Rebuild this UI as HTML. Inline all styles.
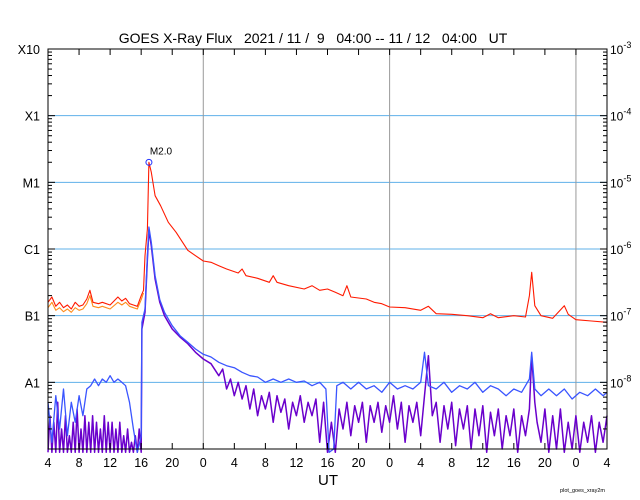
<!DOCTYPE html>
<html><head><meta charset="utf-8"><style>
body{margin:0;background:#fff;}
svg{display:block;font-family:"Liberation Sans",sans-serif;}
.pre{white-space:pre;}
</style></head><body>
<svg id="chart" width="640" height="500" viewBox="0 0 640 500" xmlns="http://www.w3.org/2000/svg">
<rect width="640" height="500" fill="#fff"/>
<text class="pre" xml:space="preserve" x="313" y="43" text-anchor="middle" font-size="14">GOES X-Ray Flux   2021 / 11 /  9   04:00 -- 11 / 12   04:00   UT</text>
<g id="grid"></g>
<g id="series"></g>
<g id="axes"></g>
<text x="328" y="485" text-anchor="middle" font-size="15">UT</text>
<text x="605" y="492" text-anchor="end" font-size="5.5">plot_goes_xray2m</text>
</svg>
<script>
const xTickLabels=["4","8","12","16","20","0","4","8","12","16","20","0","4","8","12","16","20","0","4"];
const leftLabels=["X10","X1","M1","C1","B1","A1"];
const rightExps=["-3","-4","-5","-6","-7","-8"];
const dayLines=[20,44,68];
const redT=[0,0.5,1,1.5,2,2.5,3,3.5,4,4.5,5,5.4,5.8,6.5,7,8,9,9.5,10,10.5,11,11.5,12,12.3,12.5,12.8,13.0,13.3,13.8,14.5,15.5,16.5,18,19,20,21,22,23,24.5,25,25.5,27,28.5,29,29.5,31,33,34,35,36,37,38,38.5,39,41,42,43,44,46,48,49,50,52,54,56,57,58,60,61.5,62,62.3,62.7,63.5,65,66.5,67,68,70,72];
const redV=[-6.80,-6.72,-6.86,-6.80,-6.88,-6.84,-6.90,-6.80,-6.86,-6.84,-6.75,-6.62,-6.80,-6.82,-6.80,-6.84,-6.72,-6.78,-6.74,-6.82,-6.84,-6.86,-6.70,-6.62,-6.10,-5.70,-4.70,-4.85,-5.20,-5.35,-5.60,-5.75,-6.02,-6.10,-6.18,-6.20,-6.25,-6.30,-6.36,-6.30,-6.40,-6.44,-6.50,-6.40,-6.50,-6.55,-6.60,-6.55,-6.62,-6.60,-6.65,-6.70,-6.55,-6.72,-6.75,-6.80,-6.82,-6.87,-6.88,-6.92,-6.86,-6.97,-6.98,-7.00,-7.03,-6.97,-7.03,-7.00,-7.02,-6.70,-6.35,-6.85,-7.00,-7.04,-6.85,-6.98,-7.06,-7.08,-7.10];
const orangeT=[0,0.5,1,1.5,2,2.5,3,3.5,4,4.5,5,5.4,5.8,6.5,7,8,9,9.5,10,10.5,11,11.5,12,12.3];
const orangeV=[-6.88,-6.80,-6.92,-6.88,-6.94,-6.90,-6.95,-6.88,-6.92,-6.90,-6.82,-6.70,-6.86,-6.88,-6.86,-6.90,-6.80,-6.84,-6.80,-6.86,-6.88,-6.90,-6.76,-6.66];
const blueT=[0,0.5,1,1.5,2,2.5,3,3.5,4,4.5,5,5.5,6,6.5,7,7.5,8,8.5,9,9.5,10,10.5,11,11.5,12,12.1,12.5,12.8,13.0,13.3,13.8,14.4,15,16,17,18,19,20,21,22,23,24,25,26,27,28,29,30,31,32,33,34,35,35.8,36.2,36.8,37.2,38,39,40,41,42,43,44,45,46,47,48,48.5,49,50,51,52,53,54,55,56,57,58,59,60,61,62,62.3,62.7,63.5,64.5,65.5,66.5,67.5,68.5,69.5,70.5,71.5,72];
const blueV=[-8.3,-8.9,-8.2,-8.7,-8.1,-8.8,-8.3,-8.6,-8.2,-8.5,-8.1,-8.05,-7.95,-8.05,-7.95,-8.0,-7.9,-8.0,-7.95,-8.0,-8.05,-8.3,-8.7,-9.1,-8.8,-7.1,-6.9,-6.1,-5.67,-5.9,-6.4,-6.76,-6.95,-7.15,-7.3,-7.4,-7.5,-7.58,-7.62,-7.70,-7.75,-7.78,-7.85,-7.9,-7.92,-8.0,-7.95,-8.0,-7.95,-8.0,-7.98,-8.05,-8.0,-8.1,-9.1,-9.0,-8.05,-8.0,-8.1,-8.0,-8.1,-8.05,-8.15,-8.0,-8.1,-8.05,-8.1,-8.0,-7.55,-8.05,-8.1,-8.0,-8.15,-8.05,-8.1,-8.0,-8.15,-8.05,-8.1,-8.2,-8.1,-8.15,-7.95,-7.55,-8.1,-8.2,-8.1,-8.2,-8.1,-8.25,-8.15,-8.2,-8.1,-8.2,-8.15];
const purpleT=[0,0.25,0.5,0.75,1,1.25,1.5,1.75,2,2.25,2.5,2.75,3,3.25,3.5,3.75,4,4.25,4.5,4.75,5,5.25,5.5,5.75,6,6.25,6.5,6.75,7,7.25,7.5,7.75,8,8.25,8.5,8.75,9,9.25,9.5,9.75,10,10.25,10.5,10.75,11,11.25,11.5,11.75,12,12.1,12.5,12.8,13.0,13.3,13.8,14.4,15,16,17,18,19,20,21,22,22.5,23,23.5,24,24.5,25,25.5,26,26.5,27,27.5,28,28.5,29,29.5,30,30.5,31,31.5,32,32.5,33,33.5,34,34.5,35,35.5,36,36.5,37,37.5,38,38.5,39,39.5,40,40.5,41,41.5,42,42.5,43,43.5,44,44.5,45,45.5,46,46.5,47,47.5,48,48.5,49,49.5,50,50.5,51,51.5,52,52.5,53,53.5,54,54.5,55,55.5,56,56.5,57,57.5,58,58.5,59,59.5,60,60.5,61,61.5,62,62.3,62.7,63,63.5,64,64.5,65,65.5,66,66.5,67,67.5,68,68.5,69,69.5,70,70.5,71,71.5,72];
const purpleV=[-9.3,-8.5,-9.3,-8.6,-9.2,-8.3,-9.3,-8.7,-9.3,-8.5,-9.3,-8.8,-9.2,-8.6,-9.3,-8.4,-9.3,-8.7,-9.3,-8.5,-9.2,-8.6,-9.3,-8.5,-9.3,-8.6,-9.2,-8.7,-9.3,-8.5,-9.3,-8.6,-9.2,-8.6,-9.3,-8.7,-9.3,-8.6,-9.2,-8.8,-9.3,-8.7,-9.3,-8.9,-9.3,-8.8,-9.3,-8.7,-9.2,-7.2,-6.95,-6.15,-5.72,-5.95,-6.45,-6.8,-7.0,-7.2,-7.32,-7.42,-7.55,-7.65,-7.72,-7.9,-7.8,-8.1,-7.95,-8.2,-8.0,-8.25,-8.05,-8.4,-8.1,-8.5,-8.2,-8.4,-8.15,-8.6,-8.2,-8.45,-8.25,-8.7,-8.3,-8.5,-8.2,-8.6,-8.3,-8.5,-8.25,-8.9,-8.3,-9.2,-8.6,-9.2,-8.4,-8.7,-8.3,-8.8,-8.35,-8.6,-8.3,-8.9,-8.35,-8.6,-8.3,-8.75,-8.35,-8.6,-8.2,-8.7,-8.3,-8.9,-8.35,-8.6,-8.3,-8.8,-8.2,-7.6,-8.5,-8.3,-8.9,-8.35,-8.7,-8.3,-8.95,-8.4,-8.7,-8.35,-9.0,-8.4,-8.8,-8.35,-9.1,-8.45,-8.8,-8.4,-9.0,-8.5,-8.8,-8.4,-9.2,-8.5,-8.8,-8.4,-7.6,-8.3,-8.6,-8.9,-8.4,-9.2,-8.5,-9.0,-8.4,-9.2,-8.6,-9.0,-8.5,-9.1,-8.6,-8.9,-8.5,-9.1,-8.6,-8.9,-8.5];
const peakT=13.0, peakV=-4.70, peakLabel="M2.0";

const NS="http://www.w3.org/2000/svg";
const X0=48,X1=607,Y0=49,Y1=449;
function xs(t){return X0+(X1-X0)*t/72;}
function ys(v){return Y0+(Y1-Y0)*(-3-v)/6;}
function mk(tag,attrs,parent){const e=document.createElementNS(NS,tag);for(const k in attrs)e.setAttribute(k,attrs[k]);parent.appendChild(e);return e;}
const grid=document.getElementById('grid'),ser=document.getElementById('series'),ax=document.getElementById('axes');
for(let i=1;i<6;i++){const y=ys(-3-i);
 const l=mk('line',{x1:X0,x2:X1,y1:y,y2:y,stroke:'#5fb0ea','stroke-width':1},grid);
 
 }
dayLines.forEach(t=>{const x=xs(t);
 const l=mk('line',{x1:x,x2:x,y1:Y0,y2:Y1,stroke:'#999','stroke-width':1},grid);
 
 });
function series(T,V,color,name,w){
 const clip=v=>Math.max(Math.min(v,-3),-9.05);
 const d=T.map((t,i)=>(i?'L':'M')+xs(t).toFixed(1)+','+ys(clip(V[i])).toFixed(1)).join('');
 const p=mk('path',{d:d,fill:'none',stroke:color,'stroke-width':w,'stroke-linejoin':'round'},ser);
 
 }
series(purpleT,purpleV,'#6a00cc','short-channel-secondary',1.5);
series(blueT,blueV,'#3a55ff','short-channel-primary',1.3);
series(orangeT,orangeV,'#ff8c1a','long-channel-secondary',1.1);
series(redT,redV,'#ff1a00','long-channel-primary',1.1);
const pk=mk('circle',{cx:xs(peakT),cy:ys(peakV),r:3,fill:'none',stroke:'#2233ff','stroke-width':1},ser);


const pl=mk('text',{x:xs(peakT)+12,y:ys(peakV)-8,'text-anchor':'middle','font-size':10},ser);
pl.textContent=peakLabel;


const fr=mk('rect',{x:X0,y:Y0,width:X1-X0,height:Y1-Y0,fill:'none',stroke:'#000','stroke-width':1},ax);


xTickLabels.forEach((lab,i)=>{const x=xs(i*4);
 mk('line',{x1:x,x2:x,y1:Y1,y2:Y1-6,stroke:'#000'},ax);
 mk('line',{x1:x,x2:x,y1:Y0,y2:Y0+6,stroke:'#000'},ax);
 const t=mk('text',{x:x,y:467,'text-anchor':'middle','font-size':12.5},ax);
 t.textContent=lab;
 
 });
for(let d=0;d<6;d++){const base=-3-d-1;
 for(let m=2;m<=9;m++){const y=ys(base+Math.log10(m));
  mk('line',{x1:X0,x2:X0+4,y1:y,y2:y,stroke:'#000'},ax);
  mk('line',{x1:X1,x2:X1-4,y1:y,y2:y,stroke:'#000'},ax);}}
leftLabels.forEach((lab,i)=>{const y=ys(-3-i);
 mk('line',{x1:X0,x2:X0+7,y1:y,y2:y,stroke:'#000'},ax);
 mk('line',{x1:X1,x2:X1-7,y1:y,y2:y,stroke:'#000'},ax);
 const t=mk('text',{x:40,y:y+5,'text-anchor':'end','font-size':12.5},ax);
 t.textContent=lab;
 
 
 const r=mk('text',{x:610,y:y+5,'font-size':12},ax);
 r.textContent='10';
 const s=mk('tspan',{dy:-6,'font-size':9},r);
 s.textContent=rightExps[i];
 
 });
</script>
</body></html>
